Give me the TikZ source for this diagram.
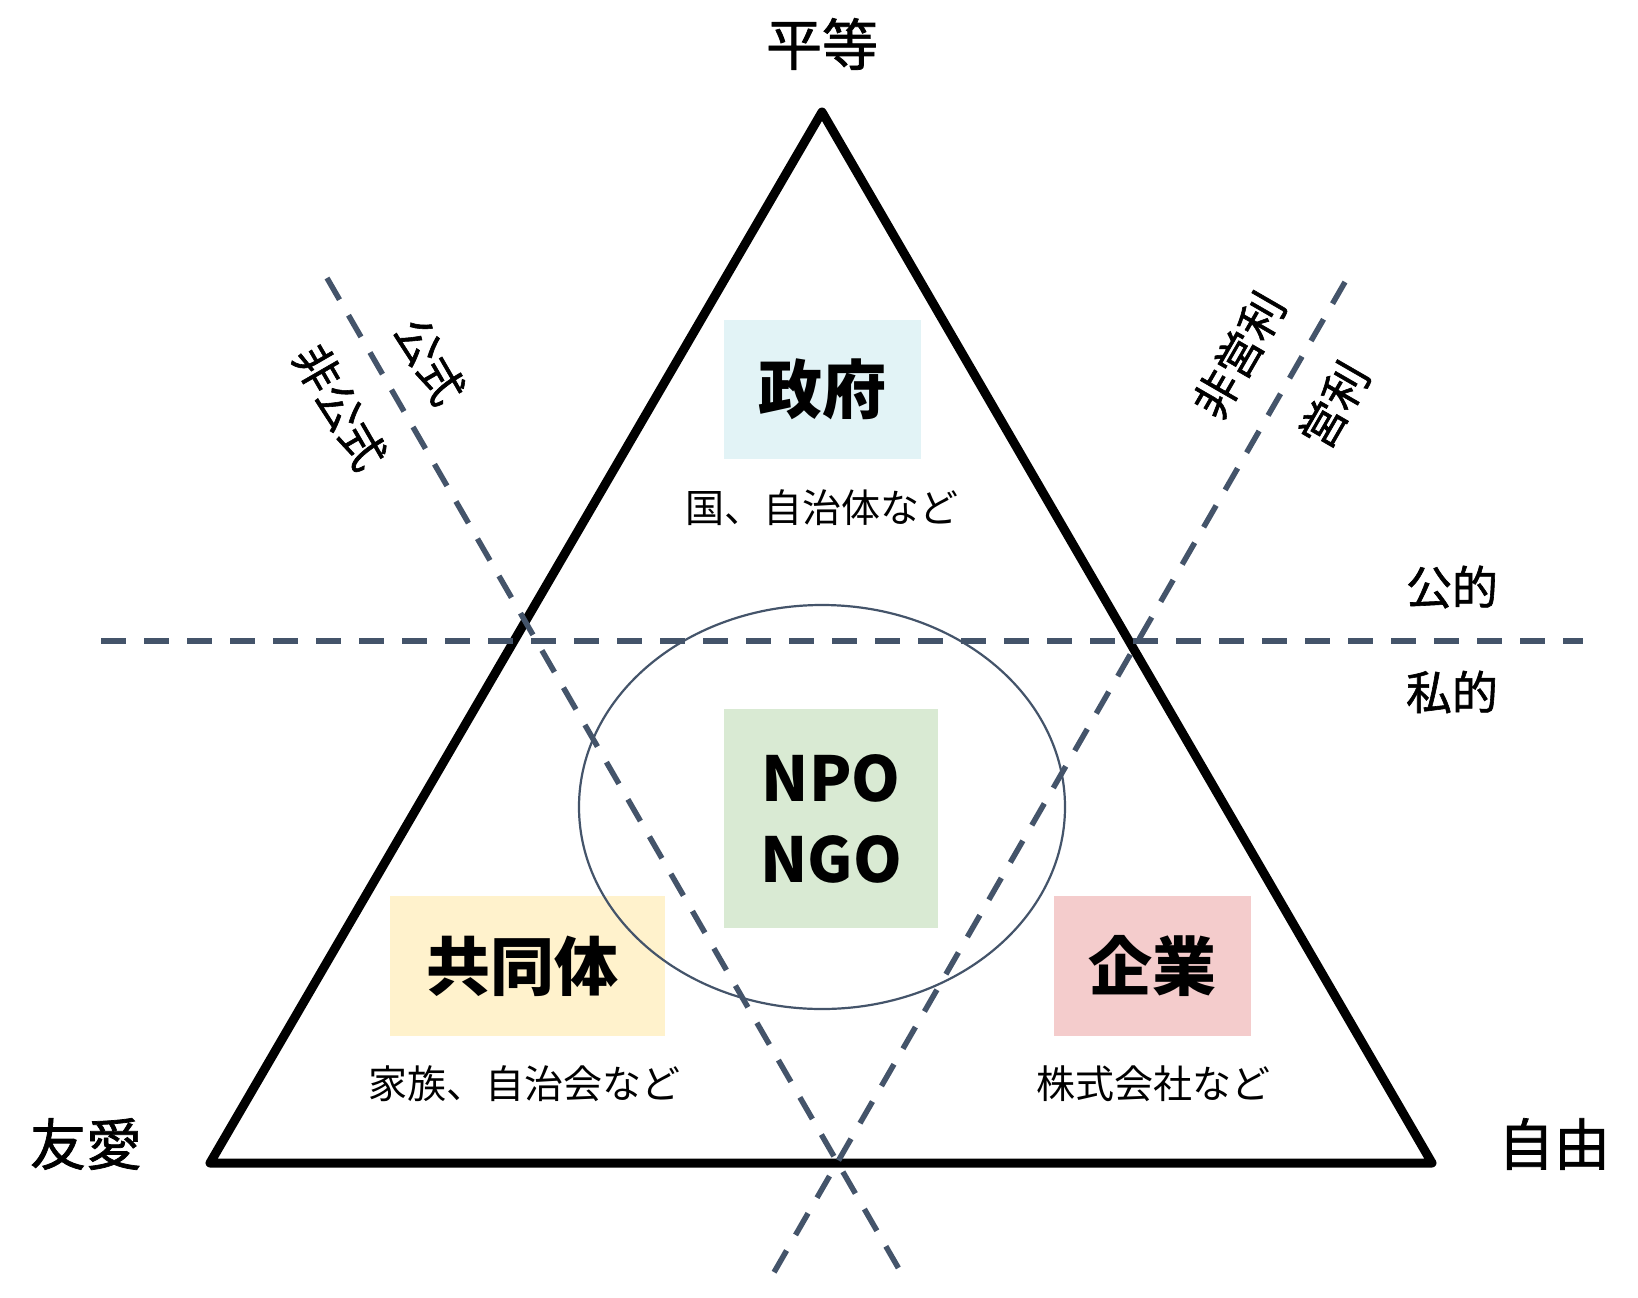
\documentclass[tikz,border=0pt]{standalone}
\usepackage{fontspec}
\usetikzlibrary{shapes.geometric}
\setmainfont{Noto Sans CJK JP}
\newfontfamily\medfont{Noto Sans CJK JP}[FakeBold=1.3]
\definecolor{slate}{RGB}{68,84,106}
\definecolor{govc}{RGB}{226,243,246}
\definecolor{comc}{RGB}{255,242,204}
\definecolor{npoc}{RGB}{217,234,211}
\definecolor{entc}{RGB}{244,204,204}
\tikzset{
  corner/.style={font=\medfont\fontsize{56}{60}\selectfont, inner sep=0pt},
  side/.style={font=\medfont\fontsize{46}{50}\selectfont, inner sep=0pt},
  slant/.style={font=\medfont\fontsize{45}{50}\selectfont, inner sep=0pt},
  box/.style={inner sep=0pt, font=\bfseries\fontsize{64}{70}\selectfont},
  note/.style={font=\fontsize{39}{44}\selectfont, inner sep=0pt},
  divider/.style={draw=slate, line width=5.5pt, dash pattern=on 25pt off 18pt},
  tri/.style={draw=black, line width=9pt, line join=round, line cap=round}
}
\begin{document}
\begin{tikzpicture}[x=1pt,y=-1pt]
\useasboundingbox (0,0) rectangle (1638,1298);
\fill[white] (0,0) rectangle (1638,1298);

% boxes
\node[box, fill=govc, minimum width=197pt, minimum height=139pt] (gov) at (822.5,389.5) {政府};
\node[box, fill=npoc, minimum width=214pt, minimum height=219pt, align=center,
      font=\bfseries\fontsize{62}{81}\selectfont] (npo) at (831,818.5) {NPO\\NGO};
\node[box, fill=comc, minimum width=275pt, minimum height=140pt] (com) at (527.5,966) {\hspace*{-10pt}共同体};
\node[box, fill=entc, minimum width=197pt, minimum height=140pt] (ent) at (1152.5,966) {企業};

% notes
\node[note] (govn) at (822,508) {国、自治体など};
\node[note] (comn) at (524,1084) {家族、自治会など};
\node[note] (entn) at (1153,1084) {株式会社など};

% triangle
\coordinate (A) at (822,112);
\coordinate (B) at (210,1163);
\coordinate (C) at (1432,1163);
\draw[tri] (A) -- (B) -- (C) -- cycle;

% dashed dividers
\coordinate (h1) at (101,641);
\coordinate (h2) at (1583,641);
\coordinate (l1) at (327,278);
\coordinate (l2) at (903,1276);
\coordinate (r1) at (1345,282);
\coordinate (r2) at (769,1281);
\draw[divider] (h1) -- (h2);
\draw[divider] (l1) -- (l2);
\draw[divider] (r1) -- (r2);

% ellipse
\node[draw=slate, line width=2.2pt, ellipse, minimum width=486pt, minimum height=404pt, inner sep=0pt] (ring) at (822,807) {};

% corner labels
\node[corner] (top) at (822,44) {平等};
\node[corner] (left) at (86,1144) {友愛};
\node[corner] (right) at (1554,1144) {自由};

% side labels
\node[side] (pub) at (1452,587) {公的};
\node[side] (pri) at (1452,692) {私的};

% slanted labels
\node[slant, rotate=-60] (form) at (430,361) {公式};
\node[slant, rotate=-60] (inform) at (340,407) {非公式};
\node[slant, rotate=60] (nonprof) at (1239,355) {非営利};
\node[slant, rotate=60] (prof) at (1334,405) {営利};
\end{tikzpicture}
\end{document}
